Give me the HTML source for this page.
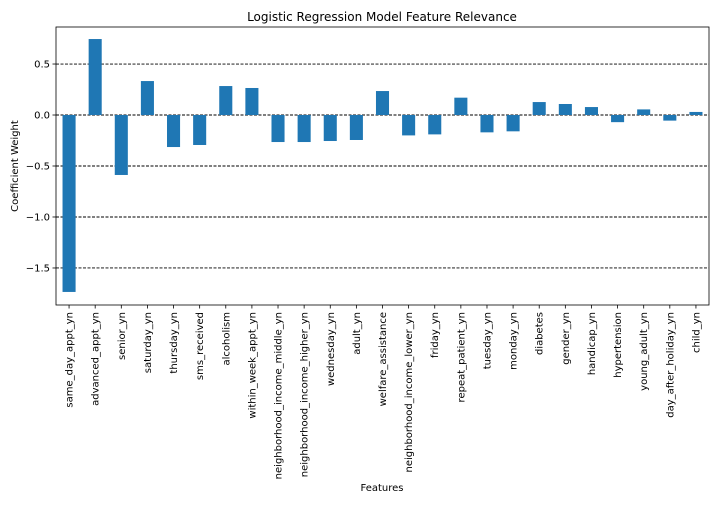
<!DOCTYPE html>
<html><head><meta charset="utf-8"><style>
body{margin:0;background:#fff;}
svg text{font-family:"DejaVu Sans","Liberation Sans",sans-serif;fill:#000;}
</style></head><body>
<svg id="chart" width="720" height="504" xmlns="http://www.w3.org/2000/svg">
<text x="382" y="21" font-size="12" text-anchor="middle">Logistic Regression Model Feature Relevance</text>
<text transform="translate(18,166) rotate(-90)" font-size="10" text-anchor="middle">Coefficient Weight</text>
<text x="382" y="491" font-size="10" text-anchor="middle">Features</text>
<g id="grid"></g><g id="bars"></g><g id="axes"></g>
</svg>
<script>
const categories=["same_day_appt_yn","advanced_appt_yn","senior_yn","saturday_yn","thursday_yn","sms_received","alcoholism","within_week_appt_yn","neighborhood_income_middle_yn","neighborhood_income_higher_yn","wednesday_yn","adult_yn","welfare_assistance","neighborhood_income_lower_yn","friday_yn","repeat_patient_yn","tuesday_yn","monday_yn","diabetes","gender_yn","handicap_yn","hypertension","young_adult_yn","day_after_holiday_yn","child_yn"];
const values=[-1.735,0.745,-0.588,0.333,-0.314,-0.294,0.284,0.265,-0.265,-0.265,-0.255,-0.245,0.235,-0.2,-0.19,0.17,-0.17,-0.16,0.127,0.108,0.078,-0.07,0.055,-0.055,0.03];
const yTicks=[-1.5,-1.0,-0.5,0.0,0.5];
const yTickLabels=["\u22121.5","\u22121.0","\u22120.5","0.0","0.5"];
const L=56,R=709,T=27,B=305,yMin=-1.863,yMax=0.863;
const ns="http://www.w3.org/2000/svg";
const y=v=>T+(yMax-v)/(yMax-yMin)*(B-T);
const step=(R-L)/categories.length;
const x=i=>L+step*(i+0.5);
function mk(tag,attrs,parent){const e=document.createElementNS(ns,tag);for(const k in attrs)e.setAttribute(k,attrs[k]);document.getElementById(parent).appendChild(e);return e;}
yTicks.forEach((t,i)=>{
  const g=mk('line',{x1:L,x2:R,y1:y(t),y2:y(t),stroke:'#000','stroke-width':0.9,'stroke-dasharray':'3,1.5'},'grid');
  
  
  const tk=mk('line',{x1:L-3.5,x2:L,y1:y(t),y2:y(t),stroke:'#000','stroke-width':0.8},'axes');
  
  
  const lb=mk('text',{x:L-6,y:y(t)+3.5,'font-size':10,'text-anchor':'end'},'axes');
  lb.textContent=yTickLabels[i];
  
  
});
categories.forEach((c,i)=>{
  const v=values[i];const bw=step*0.5;
  const b=mk('rect',{x:x(i)-bw/2,y:Math.min(y(v),y(0)),width:bw,height:Math.abs(y(v)-y(0)),fill:'#1f77b4'},'bars');
  
  
  const tk=mk('line',{x1:x(i),x2:x(i),y1:B,y2:B+3.5,stroke:'#000','stroke-width':0.8},'axes');
  
  
  const lb=mk('text',{transform:`translate(${x(i)+3.5},${B+7}) rotate(-90)`,'font-size':10,'text-anchor':'end'},'axes');
  lb.textContent=c;
  
  
});
const f=mk('rect',{x:L,y:T,width:R-L,height:B-T,fill:'none',stroke:'#000','stroke-width':0.8},'axes');


</script>
</body></html>
